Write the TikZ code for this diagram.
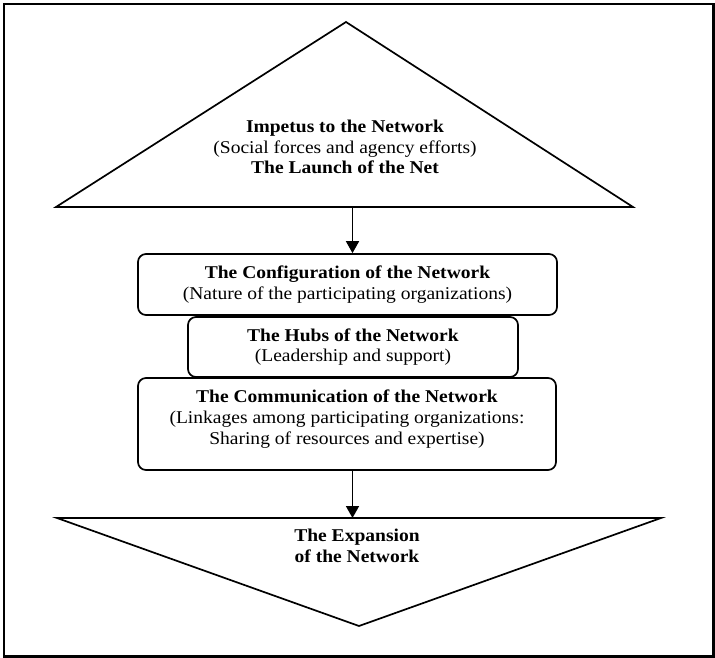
\documentclass[tikz,border=0pt]{standalone}
\usepackage{fontspec}
\setmainfont{Liberation Serif}[FakeStretch=1.085]
\usetikzlibrary{arrows.meta}
\begin{document}
\begin{tikzpicture}[x=1pt,y=-1pt,
  shape line/.style={draw=black,line width=1.7pt,line join=miter},
  txt/.style={align=center,font=\fontsize{18}{20.8}\selectfont,inner sep=0pt},
  roundbox/.style={draw=black,line width=1.7pt,rounded corners=8pt,fill=white,
    align=center,font=\fontsize{18}{20.8}\selectfont,inner sep=0pt},
  conn/.style={line width=1.7pt,-{Triangle[length=12pt,width=13pt]}}]
\useasboundingbox (0,0) rectangle (715,658);
\draw[line width=2.2pt] (4,4) rectangle (713.5,656.5);
% upper triangle
\coordinate (ta) at (346,22);
\coordinate (tl) at (56,207);
\coordinate (tr) at (633,207);
\draw[shape line] (ta) -- (tl) -- (tr) -- cycle;
\node[txt] (impetus) at (345,147) {\textbf{Impetus to the Network}\\(Social forces and agency efforts)\\\textbf{The Launch of the Net}};
% boxes
\node[roundbox,minimum width=419pt,minimum height=61pt] (config) at (347.5,284.5)
  {\textbf{The Configuration of the Network}\\(Nature of the participating organizations)};
\node[roundbox,minimum width=330pt,minimum height=60pt] (hubs) at (353,347)
  {\textbf{The Hubs of the Network}\\(Leadership and support)};
\node[roundbox,minimum width=418pt,minimum height=92pt] (comm) at (347,424) {};
\node[txt] (commtext) at (347,419) {\textbf{The Communication of the Network}\\(Linkages among participating organizations:\\Sharing of resources and expertise)};
% lower triangle
\coordinate (bl) at (57,518);
\coordinate (br) at (661,518);
\coordinate (ba) at (359,626);
\draw[shape line] (bl) -- (br) -- (ba) -- cycle;
\node[txt] (expansion) at (357,546) {\textbf{The Expansion}\\\textbf{of the Network}};
% connectors
\coordinate (upbase) at (352.5,207);
\coordinate (lowtop) at (352.5,518);
\draw[conn] (upbase) -- (upbase |- config.north);
\draw[conn] (upbase |- comm.south) -- (lowtop);
\end{tikzpicture}
\end{document}
